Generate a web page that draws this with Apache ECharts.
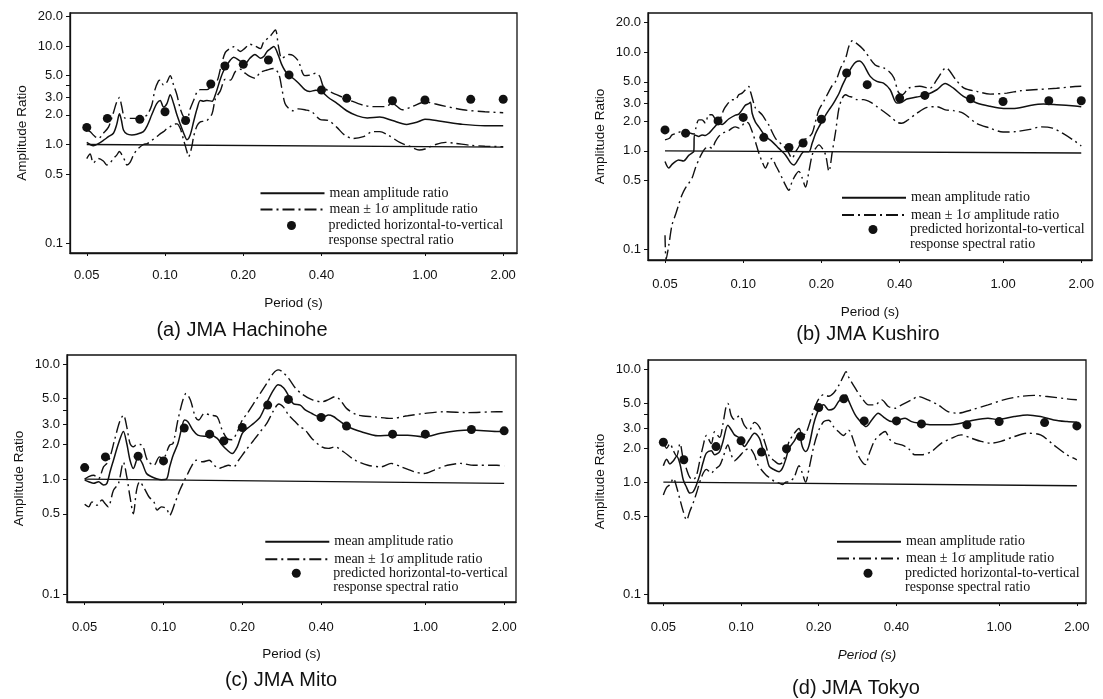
<!DOCTYPE html>
<html>
<head>
<meta charset="utf-8">
<script src="https://cdn.jsdelivr.net/npm/echarts@6.0.0/dist/echarts.min.js"></script>
<style>
  html, body { margin: 0; padding: 0; background: #ffffff; }
  #chart { width: 1103px; height: 699px; }
</style>
</head>
<body>
<div id="chart"></div>
<script>
// Tick values shared by all four panels
const periodTicks = [0.05, 0.1, 0.2, 0.4, 1, 2];
const ratioTicks = [0.1, 0.5, 1, 2, 3, 4, 5, 10, 20];
const ratioLabels = [0.1, 0.5, 1, 2, 3, 5, 10, 20];

const captionTexts = ['(a) JMA Hachinohe', '(b) JMA Kushiro', '(c) JMA Mito', '(d) JMA Tokyo'];
const MEAN = 'mean amplitude ratio';
const SIGMA = 'mean \u00b1 1\u03c3 amplitude ratio';
const PRED = 'predicted horizontal-to-vertical response spectral ratio';
const PRED_LINES = ['predicted horizontal-to-vertical', 'response spectral ratio'];

// ---- (a) JMA Hachinohe: [period (s), amplitude ratio] ----
const hachinoheMean = [[0.05,1.05],[0.0515,1.0],[0.053,0.97],[0.0554,1.02],[0.0579,1.1],[0.0606,1.2],[0.0633,1.3],[0.0652,1.6],[0.0668,2.05],[0.068,1.75],[0.0692,1.4],[0.0713,1.28],[0.0745,1.25],[0.0779,1.27],[0.0826,1.35],[0.0854,1.55],[0.0889,2.0],[0.0929,2.6],[0.0958,2.8],[0.0987,2.4],[0.1017,2.6],[0.1047,3.2],[0.1079,2.6],[0.1111,2.0],[0.1145,1.6],[0.118,1.3],[0.1214,1.12],[0.125,1.25],[0.1288,1.7],[0.1328,2.3],[0.1367,2.8],[0.1409,2.75],[0.145,2.8],[0.1517,2.75],[0.1562,3.2],[0.1632,4.6],[0.168,5.6],[0.1732,6.4],[0.1784,7.2],[0.1837,7.7],[0.1949,7.0],[0.2032,6.6],[0.2121,7.5],[0.2218,8.2],[0.2328,7.5],[0.2397,7.8],[0.247,8.8],[0.2536,9.3],[0.2621,9.9],[0.273,8.0],[0.281,6.5],[0.2895,5.6],[0.30,5.0],[0.311,4.7],[0.326,4.2],[0.345,3.6],[0.36,3.45],[0.38,3.55],[0.40,3.45],[0.425,3.0],[0.46,2.6],[0.50,2.2],[0.55,1.95],[0.60,1.86],[0.67,1.9],[0.75,1.75],[0.85,1.6],[0.93,1.68],[1.0,1.8],[1.15,1.72],[1.4,1.6],[1.7,1.55],[2.0,1.55]];
const hachinoheUpper = [[0.05,1.4],[0.0515,1.35],[0.053,1.25],[0.0554,1.15],[0.0579,1.3],[0.0606,1.5],[0.0633,2.1],[0.0652,2.7],[0.0668,3.0],[0.068,2.5],[0.0702,1.85],[0.0734,1.84],[0.0779,1.84],[0.0826,1.9],[0.0854,2.0],[0.0889,2.5],[0.0915,3.6],[0.0943,4.4],[0.0958,4.5],[0.0987,4.0],[0.1017,4.3],[0.1047,5.0],[0.1079,4.0],[0.1111,3.2],[0.1145,2.3],[0.118,1.9],[0.1214,1.8],[0.125,2.3],[0.1288,2.8],[0.1328,3.4],[0.1367,3.6],[0.145,3.6],[0.1517,4.0],[0.1585,4.4],[0.1632,5.8],[0.1706,8.6],[0.1784,9.5],[0.1837,9.8],[0.1949,8.8],[0.2032,9.5],[0.2121,10.4],[0.2218,10.0],[0.2328,9.4],[0.2397,11.0],[0.2536,12.5],[0.2658,14.5],[0.273,10.0],[0.281,7.5],[0.29,7.8],[0.30,8.2],[0.311,8.0],[0.326,7.0],[0.345,5.0],[0.367,5.1],[0.38,5.3],[0.394,4.9],[0.406,3.9],[0.425,3.5],[0.4575,3.2],[0.515,2.8],[0.58,2.5],[0.64,2.42],[0.70,2.42],[0.75,2.6],[0.82,2.25],[0.9,2.45],[1.0,2.7],[1.15,2.5],[1.4,2.25],[1.7,2.15],[2.0,2.1]];
const hachinoheLower = [[0.05,0.72],[0.0515,0.8],[0.053,0.65],[0.0554,0.72],[0.0579,0.68],[0.0597,0.62],[0.0615,0.65],[0.0633,0.72],[0.0652,0.78],[0.0668,0.85],[0.068,0.8],[0.0702,0.68],[0.0713,0.62],[0.0734,0.66],[0.0756,0.78],[0.0779,0.88],[0.0826,1.0],[0.0854,1.02],[0.0889,1.1],[0.0929,1.2],[0.0958,1.28],[0.0987,1.35],[0.1017,1.45],[0.1047,1.52],[0.1079,1.6],[0.1111,1.62],[0.1145,1.45],[0.118,1.1],[0.1214,0.85],[0.1232,0.75],[0.1268,0.95],[0.1288,1.2],[0.1328,1.55],[0.1367,1.7],[0.1409,1.72],[0.145,1.75],[0.1517,2.05],[0.1562,2.9],[0.1632,3.5],[0.1706,4.6],[0.1784,4.5],[0.1865,5.5],[0.1949,5.8],[0.2032,5.3],[0.2121,4.9],[0.2218,4.7],[0.2328,5.4],[0.247,5.7],[0.2621,5.9],[0.2738,5.2],[0.281,3.8],[0.2895,2.6],[0.30,2.3],[0.311,2.2],[0.326,2.3],[0.345,2.25],[0.367,2.15],[0.394,1.8],[0.425,1.75],[0.4575,1.5],[0.49,1.25],[0.53,1.15],[0.58,1.2],[0.63,1.35],[0.67,1.35],[0.72,1.25],[0.80,1.05],[0.88,0.95],[0.95,0.88],[1.0,0.9],[1.1,1.0],[1.2,1.05],[1.3,1.03],[1.5,0.98],[1.7,0.96],[2.0,0.95]];
const hachinoheUnity = [[0.05,1.0],[2.0,0.94]];
const hachinohePredicted = [[0.05,1.49],[0.06,1.84],[0.08,1.80],[0.10,2.15],[0.12,1.75],[0.15,4.11],[0.17,6.26],[0.20,6.51],[0.25,7.21],[0.30,5.08],[0.40,3.57],[0.50,2.94],[0.75,2.78],[1.0,2.83],[1.5,2.87],[2.0,2.88]];

// ---- (b) JMA Kushiro ----
const kushiroMean = [[0.05,0.78],[0.0517,0.67],[0.0532,0.73],[0.0548,0.78],[0.0564,0.81],[0.0589,0.79],[0.0617,0.9],[0.0635,0.95],[0.0645,0.98],[0.0649,1.45],[0.0674,1.4],[0.0694,1.45],[0.0715,1.43],[0.0736,1.5],[0.0769,1.7],[0.0805,1.9],[0.0829,1.85],[0.0879,2.1],[0.0933,2.3],[0.0961,2.35],[0.099,2.6],[0.102,2.9],[0.105,3.0],[0.1066,3.1],[0.1082,2.4],[0.1114,1.95],[0.1148,1.75],[0.1218,1.4],[0.1292,1.24],[0.1371,1.06],[0.1454,0.91],[0.152,0.76],[0.1566,0.72],[0.1637,0.84],[0.1712,0.98],[0.179,0.98],[0.1843,1.2],[0.1899,1.5],[0.1956,1.75],[0.2015,2.0],[0.2075,2.3],[0.2138,2.6],[0.2202,2.9],[0.2268,3.3],[0.2336,3.8],[0.2407,4.6],[0.2479,5.4],[0.2553,6.3],[0.263,7.2],[0.271,7.9],[0.28,8.1],[0.2905,7.44],[0.3081,5.67],[0.3268,5.04],[0.3467,4.85],[0.3678,4.15],[0.3902,3.04],[0.4078,3.1],[0.4263,3.35],[0.4658,3.5],[0.5089,3.7],[0.5561,4.15],[0.5985,4.8],[0.6445,4.3],[0.7041,3.55],[0.7924,3.05],[0.8917,2.82],[1.0035,2.68],[1.129,2.7],[1.271,2.88],[1.43,2.98],[1.609,2.93],[1.893,2.84],[2.0,2.8]];
const kushiroUpper = [[0.05,1.29],[0.052,1.34],[0.0532,1.45],[0.0556,1.51],[0.0581,1.59],[0.0598,1.63],[0.0626,1.51],[0.0645,1.48],[0.0664,1.91],[0.0674,2.06],[0.0694,2.06],[0.0715,1.91],[0.0736,2.32],[0.0758,2.32],[0.0793,1.98],[0.0817,2.14],[0.0841,2.6],[0.0866,2.93],[0.0906,3.29],[0.0933,3.29],[0.0961,3.69],[0.099,3.84],[0.102,4.15],[0.105,4.48],[0.1066,3.99],[0.1114,2.71],[0.1148,2.5],[0.1182,2.32],[0.1218,2.06],[0.1254,1.83],[0.1331,1.34],[0.1412,1.15],[0.1476,1.02],[0.1543,0.84],[0.159,0.98],[0.1637,1.1],[0.1687,1.29],[0.1763,1.34],[0.1843,1.51],[0.1899,2.0],[0.1956,2.6],[0.2045,3.2],[0.2138,4.0],[0.2202,4.6],[0.2268,5.04],[0.2371,6.88],[0.2479,8.7],[0.2553,11.5],[0.263,13.0],[0.27,12.5],[0.29,10.6],[0.322,7.4],[0.347,6.9],[0.365,6.3],[0.38,5.5],[0.396,3.9],[0.41,3.7],[0.433,4.3],[0.478,4.5],[0.522,4.3],[0.56,5.4],[0.603,6.9],[0.658,5.25],[0.708,4.3],[0.792,4.0],[0.892,3.75],[1.034,3.84],[1.164,4.05],[1.31,4.15],[1.609,4.3],[1.893,4.48],[2.0,4.5]];
const kushiroLower = [[0.05,0.14],[0.0505,0.08],[0.0517,0.111],[0.0532,0.178],[0.0548,0.224],[0.0564,0.284],[0.0581,0.358],[0.0598,0.418],[0.0617,0.47],[0.0635,0.528],[0.0654,0.667],[0.0674,0.81],[0.0694,0.95],[0.0715,1.06],[0.0736,1.1],[0.0758,1.06],[0.0781,1.24],[0.0805,1.4],[0.0829,1.5],[0.0853,1.55],[0.0879,1.6],[0.0906,1.7],[0.0933,1.75],[0.0961,1.7],[0.099,1.8],[0.102,1.95],[0.105,1.9],[0.1082,1.57],[0.1114,1.24],[0.1148,0.95],[0.1182,0.78],[0.1218,0.67],[0.1254,0.78],[0.1292,0.84],[0.1331,0.72],[0.1371,0.62],[0.1412,0.53],[0.1454,0.45],[0.1498,0.40],[0.1543,0.49],[0.159,0.57],[0.1637,0.62],[0.1687,0.53],[0.1737,0.43],[0.179,0.62],[0.1843,0.91],[0.1899,1.06],[0.1956,1.15],[0.2015,1.06],[0.2075,0.91],[0.2138,0.62],[0.2202,0.98],[0.2268,1.57],[0.2336,2.71],[0.2407,3.42],[0.2479,3.69],[0.2553,3.55],[0.263,3.5],[0.274,3.3],[0.2905,3.3],[0.31,3.1],[0.327,2.8],[0.347,2.5],[0.37,2.2],[0.39,1.95],[0.407,1.9],[0.43,2.05],[0.466,2.4],[0.51,2.75],[0.556,2.8],[0.6,2.6],[0.645,2.55],[0.704,2.4],[0.79,1.9],[0.89,1.7],[1.0,1.55],[1.13,1.57],[1.27,1.65],[1.4,1.75],[1.55,1.7],[1.7,1.5],[1.893,1.25],[2.0,1.12]];
const kushiroUnity = [[0.05,1.0],[2.0,0.95]];
const kushiroPredicted = [[0.05,1.63],[0.06,1.51],[0.08,2.01],[0.10,2.18],[0.12,1.37],[0.15,1.08],[0.17,1.2],[0.20,2.09],[0.25,6.13],[0.30,4.67],[0.40,3.42],[0.50,3.64],[0.75,3.37],[1.0,3.16],[1.5,3.21],[2.0,3.21]];

// ---- (c) JMA Mito ----
const mitoMean = [[0.05,0.98],[0.0518,0.95],[0.0541,0.92],[0.0565,0.95],[0.059,0.89],[0.0608,0.92],[0.0625,1.16],[0.0644,1.46],[0.0673,2.04],[0.0703,2.6],[0.0724,2.04],[0.0745,1.46],[0.0767,1.24],[0.0801,1.56],[0.083,1.37],[0.0861,1.12],[0.09,1.05],[0.094,1.01],[0.0982,0.99],[0.1026,1.0],[0.1056,1.28],[0.1087,1.6],[0.1135,2.04],[0.1169,2.67],[0.1203,3.26],[0.1239,3.15],[0.1294,2.67],[0.1352,2.41],[0.1431,2.36],[0.1515,2.41],[0.1604,2.26],[0.1675,1.98],[0.175,1.79],[0.1828,1.67],[0.1913,1.91],[0.1999,2.5],[0.2088,2.76],[0.2211,3.05],[0.2342,3.48],[0.248,4.6],[0.2626,5.9],[0.2742,6.6],[0.2879,6.2],[0.3006,5.3],[0.314,4.5],[0.3329,4.4],[0.3478,4.0],[0.3686,3.72],[0.3906,3.5],[0.4081,3.48],[0.4263,3.6],[0.4453,3.5],[0.4652,3.26],[0.5073,2.85],[0.5699,2.58],[0.659,2.38],[0.74,2.41],[0.8564,2.41],[0.99,2.33],[1.145,2.5],[1.324,2.63],[1.488,2.67],[1.877,2.6],[2.0,2.6]];
const mitoUpper = [[0.05,1.0],[0.0518,1.05],[0.0541,1.08],[0.0565,1.01],[0.059,1.28],[0.0608,1.37],[0.0625,1.56],[0.065,2.18],[0.068,3.15],[0.0703,3.6],[0.0724,2.85],[0.0745,2.04],[0.0767,1.91],[0.0786,1.98],[0.0815,2.0],[0.0836,1.91],[0.0868,1.46],[0.092,1.32],[0.0965,1.56],[0.0995,1.51],[0.1056,1.98],[0.1087,2.04],[0.1135,3.26],[0.1186,4.87],[0.122,5.56],[0.1267,4.87],[0.1323,3.48],[0.1362,3.26],[0.1431,3.72],[0.1515,3.6],[0.1604,3.48],[0.1675,2.67],[0.175,2.26],[0.1828,2.2],[0.1913,2.58],[0.1999,3.26],[0.2088,3.72],[0.2211,4.55],[0.2342,5.56],[0.248,6.79],[0.2626,8.3],[0.2742,8.9],[0.2839,8.6],[0.3006,7.5],[0.3187,6.2],[0.3379,5.5],[0.3686,4.9],[0.402,4.7],[0.4263,4.9],[0.452,5.2],[0.4722,4.9],[0.4999,4.12],[0.5527,3.6],[0.6394,3.48],[0.74,3.37],[0.8564,3.55],[0.99,3.72],[1.188,3.85],[1.452,3.78],[1.877,3.85],[2.0,3.85]];
const mitoLower = [[0.05,0.606],[0.0518,0.575],[0.0533,0.635],[0.0557,0.594],[0.0582,0.66],[0.0598,0.614],[0.0615,0.575],[0.0644,0.8],[0.0673,0.917],[0.0703,1.4],[0.0724,1.05],[0.0745,0.7],[0.0767,0.5],[0.0789,0.8],[0.0811,0.95],[0.0845,0.83],[0.0881,0.7],[0.0919,0.635],[0.0945,0.538],[0.0982,0.575],[0.1026,0.556],[0.1056,0.486],[0.1104,0.614],[0.1154,0.8],[0.1203,0.98],[0.1239,1.12],[0.1276,1.28],[0.1333,1.46],[0.1411,1.415],[0.1495,1.46],[0.1562,1.32],[0.1627,1.24],[0.1697,1.28],[0.1773,1.32],[0.1853,1.28],[0.1936,1.46],[0.2066,1.79],[0.2211,2.18],[0.2342,2.58],[0.248,3.05],[0.2626,3.9],[0.2756,4.5],[0.2879,4.2],[0.3006,3.6],[0.3187,3.15],[0.3329,2.85],[0.3478,2.67],[0.3686,2.26],[0.402,1.91],[0.4263,1.85],[0.452,1.91],[0.4868,1.73],[0.5394,1.46],[0.604,1.32],[0.678,1.28],[0.74,1.37],[0.808,1.28],[0.907,1.16],[0.99,1.12],[1.081,1.2],[1.214,1.32],[1.363,1.37],[1.53,1.32],[1.877,1.32],[2.0,1.3]];
const mitoUnity = [[0.05,1.0],[2.0,0.92]];
const mitoPredicted = [[0.05,1.26],[0.06,1.56],[0.08,1.585],[0.10,1.44],[0.12,2.78],[0.15,2.46],[0.17,2.15],[0.20,2.81],[0.25,4.4],[0.30,4.93],[0.40,3.44],[0.50,2.89],[0.75,2.46],[1.0,2.46],[1.5,2.70],[2.0,2.63]];

// ---- (d) JMA Tokyo ----
const tokyoMean = [[0.05,1.4],[0.0515,1.6],[0.053,1.45],[0.0547,1.55],[0.0563,1.7],[0.058,1.45],[0.0597,1.05],[0.0615,0.9],[0.0633,0.8],[0.0652,0.82],[0.0672,0.95],[0.0692,1.16],[0.0713,1.5],[0.0734,1.81],[0.0767,1.9],[0.079,1.75],[0.0826,1.87],[0.0851,2.3],[0.0889,3.2],[0.0916,2.92],[0.0943,2.63],[0.0986,2.46],[0.103,2.07],[0.1077,2.38],[0.1126,2.72],[0.1177,2.46],[0.1212,2.0],[0.1249,1.75],[0.1286,1.38],[0.1344,1.29],[0.1405,1.24],[0.1447,1.33],[0.149,1.6],[0.1535,2.0],[0.1604,2.3],[0.1677,2.72],[0.1727,2.07],[0.1779,1.87],[0.1832,2.1],[0.1915,3.34],[0.2001,4.4],[0.2092,4.86],[0.2186,4.38],[0.2285,4.5],[0.2388,5.2],[0.2496,5.76],[0.255,5.96],[0.261,5.3],[0.277,3.96],[0.294,3.34],[0.305,3.12],[0.321,3.57],[0.34,4.1],[0.361,3.7],[0.383,3.45],[0.407,3.57],[0.432,3.7],[0.458,3.45],[0.493,3.34],[0.5465,3.23],[0.633,3.23],[0.712,3.34],[0.803,3.57],[0.905,3.7],[0.986,3.6],[1.143,3.83],[1.286,3.96],[1.447,3.83],[1.628,3.57],[1.832,3.45],[2.0,3.4]];
const tokyoUpper = [[0.05,2.3],[0.0515,2.0],[0.053,2.2],[0.0547,1.9],[0.0563,1.7],[0.058,2.2],[0.0597,1.6],[0.0615,1.3],[0.0633,1.1],[0.0652,1.05],[0.0672,1.15],[0.0692,1.55],[0.0713,2.1],[0.0734,2.6],[0.0767,2.2],[0.079,2.8],[0.0826,2.5],[0.0851,3.3],[0.0875,4.7],[0.0889,5.0],[0.0916,3.9],[0.0943,3.6],[0.0986,3.9],[0.103,3.2],[0.1077,2.9],[0.1126,3.4],[0.1177,3.1],[0.1212,2.6],[0.1249,2.1],[0.1286,1.7],[0.1344,1.55],[0.1405,1.45],[0.1447,1.5],[0.149,1.8],[0.1535,2.3],[0.1604,2.7],[0.1677,3.0],[0.1727,2.6],[0.1779,2.7],[0.1832,3.2],[0.1915,4.4],[0.2001,5.5],[0.2092,6.0],[0.2186,5.8],[0.2285,6.2],[0.2388,7.2],[0.2496,8.8],[0.255,9.6],[0.261,8.6],[0.277,6.84],[0.294,5.57],[0.312,4.86],[0.331,4.86],[0.351,5.38],[0.372,4.7],[0.395,4.53],[0.419,4.86],[0.458,5.38],[0.486,5.76],[0.53,5.38],[0.58,4.86],[0.633,4.24],[0.69,4.1],[0.778,4.38],[0.905,4.86],[1.04,5.38],[1.2,5.76],[1.366,5.9],[1.535,5.76],[1.832,5.5],[2.0,5.4]];
const tokyoLower = [[0.05,0.77],[0.0515,0.9],[0.053,0.95],[0.0547,1.08],[0.0563,0.9],[0.058,0.7],[0.0597,0.55],[0.0615,0.46],[0.0633,0.55],[0.0652,0.65],[0.0672,0.8],[0.0692,1.0],[0.0713,1.2],[0.0734,1.3],[0.0767,1.2],[0.079,1.3],[0.0826,1.4],[0.0851,1.65],[0.0889,2.14],[0.0916,1.75],[0.0943,1.55],[0.0986,1.7],[0.103,1.9],[0.1077,2.0],[0.1126,1.75],[0.1158,1.45],[0.1212,1.25],[0.1249,1.16],[0.1286,1.1],[0.1344,1.02],[0.1405,0.98],[0.1447,0.95],[0.149,1.0],[0.1535,1.01],[0.1604,1.1],[0.1677,1.4],[0.1727,1.2],[0.1779,1.0],[0.1832,1.3],[0.1915,2.1],[0.2001,2.9],[0.2092,3.45],[0.2186,3.55],[0.2285,3.1],[0.2388,2.8],[0.2496,2.6],[0.2609,2.9],[0.2735,2.3],[0.2858,1.69],[0.3026,1.43],[0.3159,1.87],[0.3307,2.38],[0.3509,2.72],[0.3614,2.82],[0.3778,2.38],[0.3949,2.22],[0.419,2.14],[0.4444,2.0],[0.4715,1.75],[0.5,1.75],[0.5465,1.87],[0.598,2.22],[0.655,2.46],[0.712,2.63],[0.7785,2.46],[0.851,2.3],[0.93,2.22],[1.015,2.3],[1.143,2.54],[1.286,2.72],[1.447,2.63],[1.628,2.14],[1.832,1.75],[2.0,1.58]];
const tokyoUnity = [[0.05,1.0],[2.0,0.93]];
const tokyoPredicted = [[0.05,2.26],[0.06,1.58],[0.08,2.07],[0.10,2.33],[0.12,1.85],[0.15,1.98],[0.17,2.54],[0.20,4.6],[0.25,5.5],[0.30,3.5],[0.40,3.5],[0.50,3.29],[0.75,3.23],[1.0,3.45],[1.5,3.38],[2.0,3.16]];

// ---- Panel layout ----
const panels = [
  { caption: captionTexts[0], mean: hachinoheMean, upper: hachinoheUpper, lower: hachinoheLower, unity: hachinoheUnity, predicted: hachinohePredicted,
    grid: { left: 70, top: 13, width: 447, height: 240 }, xRange: [0.0431, 2.26], yRange: [0.0792, 21.6],
    xLabelMargin: 16, xNameGap: 43, italicName: false,
    legend: { left: 259.5, mean: 193.3, sigma: 209.5, dot: 225.5 }, captionAt: [242, 330] },
  { caption: captionTexts[1], mean: kushiroMean, upper: kushiroUpper, lower: kushiroLower, unity: kushiroUnity, predicted: kushiroPredicted,
    grid: { left: 648, top: 13, width: 444, height: 247 }, xRange: [0.043, 2.2], yRange: [0.0787, 24.8],
    xLabelMargin: 18, xNameGap: 45, italicName: false,
    legend: { left: 841, mean: 197.7, sigma: 215, dot: 229.5 }, captionAt: [868, 334] },
  { caption: captionTexts[2], mean: mitoMean, upper: mitoUpper, lower: mitoLower, unity: mitoUnity, predicted: mitoPredicted,
    grid: { left: 67, top: 355, width: 449, height: 247 }, xRange: [0.0428, 2.22], yRange: [0.0857, 11.98],
    xLabelMargin: 19, xNameGap: 45, italicName: false,
    legend: { left: 264.3, mean: 541.7, sigma: 559.3, dot: 573.3 }, captionAt: [281, 680] },
  { caption: captionTexts[3], mean: tokyoMean, upper: tokyoUpper, lower: tokyoLower, unity: tokyoUnity, predicted: tokyoPredicted,
    grid: { left: 648, top: 360, width: 438, height: 243 }, xRange: [0.0436, 2.17], yRange: [0.0844, 12.17],
    xLabelMargin: 18, xNameGap: 45, italicName: true,
    legend: { left: 836, mean: 541.7, sigma: 558.5, dot: 573.3 }, captionAt: [856, 688] }
];

const INK = '#111111';
const SANS = 'Liberation Sans, Arial, sans-serif';
const SERIF = 'Liberation Serif, Times New Roman, serif';
const DASH_DOT = [12, 4, 2, 4];
const ICON_WIDTH = 64;
const DOT_SIZE = 9;
const TEXT_OFFSET = ICON_WIDTH + 5;
const TEXT_LINE = 14.5;

const grids = [], xAxes = [], yAxes = [], series = [], legends = [], graphics = [];

panels.forEach((p, i) => {
  grids.push(Object.assign({ show: true, borderColor: INK, borderWidth: 1.3, backgroundColor: 'transparent', containLabel: false }, p.grid));

  xAxes.push({
    type: 'log', logBase: 10, gridIndex: i, min: p.xRange[0], max: p.xRange[1],
    axisLine: { show: true, lineStyle: { color: INK, width: 1.3 } },
    axisTick: { show: true, customValues: periodTicks, length: 3, lineStyle: { color: INK, width: 1 } },
    axisLabel: { customValues: periodTicks, formatter: v => Number(v).toFixed(2), margin: p.xLabelMargin,
      fontFamily: SANS, fontSize: 13, color: INK },
    splitLine: { show: false }, minorTick: { show: false },
    name: 'Period (s)', nameLocation: 'middle', nameGap: p.xNameGap,
    nameTextStyle: { fontFamily: SANS, fontSize: 13.5, color: INK, fontStyle: p.italicName ? 'italic' : 'normal' }
  });

  yAxes.push({
    type: 'log', logBase: 10, gridIndex: i, min: p.yRange[0], max: p.yRange[1],
    axisLine: { show: true, lineStyle: { color: INK, width: 1.3 } },
    axisTick: { show: true, customValues: ratioTicks, length: 4, lineStyle: { color: INK, width: 1 } },
    axisLabel: { customValues: ratioLabels, formatter: v => Number(v).toFixed(1), margin: 7,
      fontFamily: SANS, fontSize: 13, color: INK },
    splitLine: { show: false }, minorTick: { show: false },
    name: 'Amplitude Ratio', nameLocation: 'middle', nameGap: 41,
    nameTextStyle: { fontFamily: SANS, fontSize: 13.5, color: INK }
  });

  const axes = { xAxisIndex: i, yAxisIndex: i };
  series.push(
    Object.assign({ type: 'line', name: 'unit ratio', data: p.unity, symbol: 'none', silent: true, color: INK,
      lineStyle: { color: INK, width: 1.4 }, z: 2 }, axes),
    Object.assign({ type: 'line', name: MEAN, data: p.mean, symbol: 'none', smooth: 0.3, color: INK,
      lineStyle: { color: INK, width: 1.5 }, z: 3 }, axes),
    Object.assign({ type: 'line', name: SIGMA, data: p.upper, symbol: 'none', smooth: 0.3, color: INK,
      lineStyle: { color: INK, width: 1.4, type: DASH_DOT }, z: 3 }, axes),
    Object.assign({ type: 'line', name: SIGMA, data: p.lower, symbol: 'none', smooth: 0.3, color: INK,
      lineStyle: { color: INK, width: 1.4, type: DASH_DOT }, z: 3 }, axes),
    Object.assign({ type: 'scatter', name: PRED, data: p.predicted, symbol: 'circle', symbolSize: DOT_SIZE, color: INK,
      itemStyle: { color: INK, opacity: 1 }, z: 4 }, axes)
  );

  const lg = p.legend;
  const legendText = { fontFamily: SERIF, fontSize: 14, color: INK };
  legends.push(
    { data: [MEAN], left: lg.left, top: lg.mean - 7, itemWidth: ICON_WIDTH, itemHeight: 14, padding: 0,
      selectedMode: false, itemStyle: { opacity: 0 }, textStyle: legendText },
    { data: [SIGMA], left: lg.left, top: lg.sigma - 7, itemWidth: ICON_WIDTH, itemHeight: 14, padding: 0,
      selectedMode: false, itemStyle: { opacity: 0 }, textStyle: legendText },
    // the round marker only covers the middle of the icon box, so the box is laid out from the marker's edge
    { data: [PRED], left: lg.left + (ICON_WIDTH - DOT_SIZE) / 2, top: lg.dot - 7, itemWidth: ICON_WIDTH, itemHeight: DOT_SIZE, padding: 0,
      selectedMode: false, itemStyle: { opacity: 1 },
      formatter: () => PRED_LINES[0], textStyle: legendText }
  );

  // second line of the predicted-ratio legend entry
  graphics.push({
    type: 'text', x: lg.left + TEXT_OFFSET, y: lg.dot + TEXT_LINE, silent: true,
    style: { text: PRED_LINES[1], fill: INK, font: '14px ' + SERIF, textAlign: 'left', textVerticalAlign: 'middle' }
  });

  graphics.push({
    type: 'text', x: p.captionAt[0], y: p.captionAt[1], silent: true,
    style: { text: p.caption, fill: INK, font: '20px ' + SANS, textAlign: 'center', textVerticalAlign: 'middle' }
  });
});

const chart = echarts.init(document.getElementById('chart'), null, { renderer: 'canvas' });
chart.setOption({
  backgroundColor: '#ffffff',
  animation: false,
  grid: grids,
  xAxis: xAxes,
  yAxis: yAxes,
  legend: legends,
  series: series,
  graphic: graphics
});
</script>
</body>
</html>
